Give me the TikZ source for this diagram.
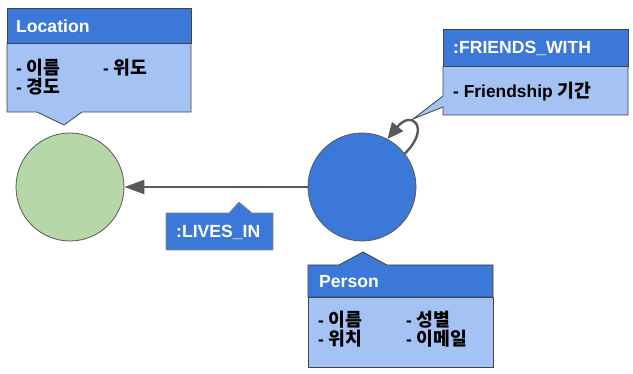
\documentclass[tikz,border=0pt]{standalone}
\usepackage{fontspec}
\setmainfont{Liberation Sans}
\newfontfamily\kr{Noto Sans CJK KR}[Scale=1.05]
\usetikzlibrary{arrows.meta}
\definecolor{hdr}{HTML}{3C78D8}
\definecolor{bodyc}{HTML}{A4C2F4}
\definecolor{grn}{HTML}{B6D7A8}
\definecolor{edge}{HTML}{434343}
\definecolor{conn}{HTML}{595959}
\tikzset{
  hdrbox/.style={fill=hdr, draw=edge, line width=0.8pt},
  bodybox/.style={fill=bodyc, draw=edge, line width=0.8pt},
  ent/.style={circle, minimum size=108pt, inner sep=0pt, draw=conn, line width=0.8pt},
  link/.style={draw=conn, line width=2.4pt, -{Triangle[length=20pt,width=14pt]}},
  htext/.style={anchor=west, inner sep=0pt, text=white, font=\bfseries\fontsize{17.6}{20}\selectfont},
  btext/.style={anchor=west, inner sep=0pt, text=black, font=\bfseries\fontsize{17.4}{20}\selectfont},
}
\newcommand{\ko}[1]{{\kr\bfseries #1}}
\begin{document}
\begin{tikzpicture}[x=1pt,y=-1pt]
\useasboundingbox (0,0) rectangle (633,374);
\fill[white] (0,0) rectangle (633,374);

% entities
\node[ent, fill=grn] (loc) at (70,187) {};
\node[ent, fill=hdr] (person) at (362,187) {};

% LIVES_IN connector
\draw[link] (person) -- (loc);

% FRIENDS_WITH self loop
\draw[link, -{Triangle[length=16pt,width=14pt]}] (person.38) .. controls (431,128) and (412,109) .. (person.62);

% Location callout
\path[bodybox] (7,43) -- (191,43) -- (191,112) -- (82,112) -- (64,125) -- (37,112) -- (7,112) -- cycle;
\path[hdrbox] (7,8) rectangle (191,43);
\node[htext] (loct) at (16,26) {Location};
\node[btext] (loc1) at (16,68) {- \ko{이름}};
\node[btext] (loc2) at (103,68) {- \ko{위도}};
\node[btext] (loc3) at (16,87) {- \ko{경도}};

% FRIENDS_WITH callout
\path[bodybox] (443,66) -- (628,66) -- (628,115) -- (443,115) -- (443,107) -- (413,119) -- (443,96) -- cycle;
\path[hdrbox] (443,29) rectangle (628,66);
\node[htext] (frt) at (453,48) {:FRIENDS\_WITH};
\node[btext] (fr1) at (453,92) {- Friendship \ko{기간}};

% LIVES_IN label
\path[fill=hdr, draw=conn!70, line width=0.6pt] (166,213) -- (229,213) -- (239,202) -- (252,213) -- (273,213) -- (273,250) -- (166,250) -- cycle;
\node[htext] (livt) at (176,232) {:LIVES\_IN};

% Person callout
\path[bodybox] (308,297) rectangle (493,367);
\path[hdrbox] (308,297) -- (308,265) -- (339,265) -- (363,252) -- (387,265) -- (493,265) -- (493,297) -- cycle;
\node[htext] (pert) at (319,282) {Person};
\node[btext] (per1) at (318,320) {- \ko{이름}};
\node[btext] (per2) at (406,320) {- \ko{성별}};
\node[btext] (per3) at (318,339) {- \ko{위치}};
\node[btext] (per4) at (406,339) {- \ko{이메일}};
\end{tikzpicture}
\end{document}
